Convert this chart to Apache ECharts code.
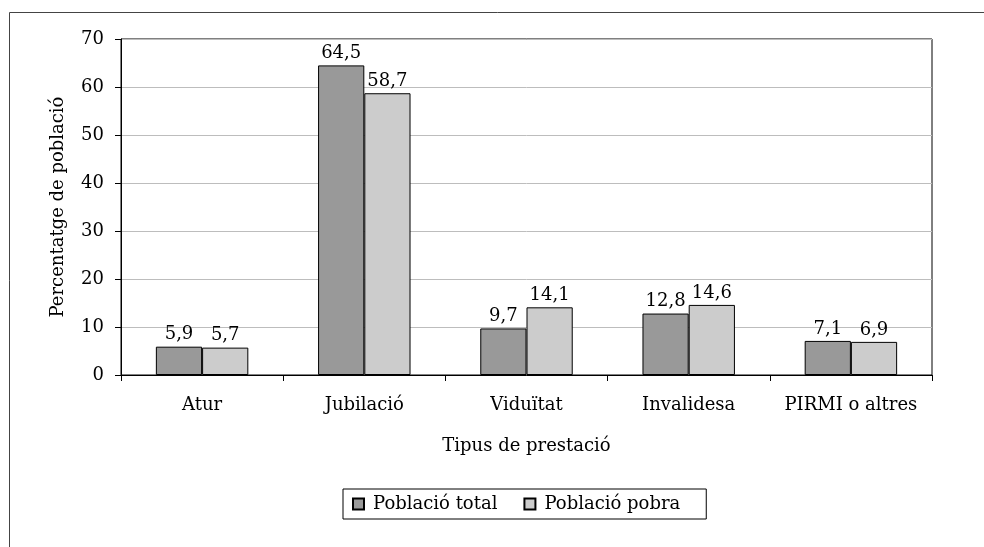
<!DOCTYPE html>
<html>
<head>
<meta charset="utf-8">
<script src="https://cdn.jsdelivr.net/npm/echarts@6/dist/echarts.min.js"></script>
<style>
  html, body { margin: 0; padding: 0; background: #fff; }
  #chart { width: 984px; height: 547px; }
</style>
</head>
<body>
<div id="chart"></div>
<script>
const categories = ['Atur', 'Jubilació', 'Viduïtat', 'Invalidesa', 'PIRMI o altres'];
const totalValues = [5.9, 64.5, 9.7, 12.8, 7.1];
const pobraValues = [5.7, 58.7, 14.1, 14.6, 6.9];
const yTicks = { min: 0, max: 70, interval: 10 };

const FONT = 'DejaVu Serif, Liberation Serif, serif';
const FS = 18;
const DARK = '#999999';
const LIGHT = '#cccccc';

const chart = echarts.init(document.getElementById('chart'));

const labelOpts = {
    show: true,
    position: 'top',
    distance: 3,
    color: '#000',
    fontFamily: FONT,
    fontSize: FS,
    formatter: p => String(p.value).replace('.', ',')
};

chart.setOption({
    backgroundColor: '#fff',
    animation: false,
    textStyle: { fontFamily: FONT, color: '#000' },
    graphic: [{
        type: 'rect',
        shape: { x: 9.5, y: 12.5, width: 1000, height: 600 },
        style: { fill: 'none', stroke: '#444', lineWidth: 1 },
        silent: true
    }],
    grid: {
        left: 121, top: 39, width: 811, height: 336,
        show: true, borderColor: '#000', borderWidth: 1, backgroundColor: 'transparent'
    },
    legend: {
        left: 343, top: 489,
        itemWidth: 11, itemHeight: 11, itemGap: 26,
        icon: 'rect',
        padding: [6, 26, 6, 9],
        borderColor: '#000', borderWidth: 1,
        textStyle: { fontFamily: FONT, fontSize: FS, color: '#000', padding: [0, 0, 0, 4] },
        data: ['Població total', 'Població pobra']
    },
    xAxis: {
        type: 'category',
        data: categories,
        name: 'Tipus de prestació',
        nameLocation: 'middle',
        nameGap: 62,
        nameTextStyle: { fontFamily: FONT, fontSize: FS, color: '#000' },
        axisLine: { lineStyle: { color: '#000' } },
        axisTick: { show: true, length: 6, lineStyle: { color: '#000' } },
        axisLabel: { interval: 0, fontFamily: FONT, fontSize: FS, color: '#000', margin: 21 }
    },
    yAxis: {
        type: 'value',
        min: yTicks.min, max: yTicks.max, interval: yTicks.interval,
        name: 'Percentatge de població',
        nameLocation: 'middle',
        nameGap: 54,
        nameTextStyle: { fontFamily: FONT, fontSize: FS, color: '#000' },
        axisLine: { show: true, lineStyle: { color: '#000' } },
        axisTick: { show: true, length: 6, lineStyle: { color: '#000' } },
        axisLabel: { fontFamily: FONT, fontSize: FS, color: '#000', margin: 17 },
        splitLine: { lineStyle: { color: '#bdbdbd' } }
    },
    series: [
        {
            name: 'Població total', type: 'bar', data: totalValues,
            barGap: '0%', barCategoryGap: '43%',
            itemStyle: { color: DARK, borderColor: '#000', borderWidth: 1 },
            label: labelOpts
        },
        {
            name: 'Població pobra', type: 'bar', data: pobraValues,
            itemStyle: { color: LIGHT, borderColor: '#000', borderWidth: 1 },
            label: labelOpts
        }
    ]
});
</script>
</body>
</html>
